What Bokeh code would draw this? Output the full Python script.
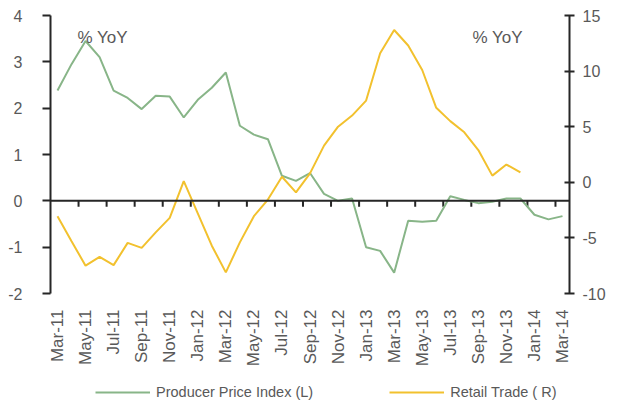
from bokeh.plotting import figure
from bokeh.models import (Range1d, LinearAxis, FixedTicker, Span, Legend, Label)
from bokeh.core.properties import value
from bokeh.embed import file_html
from bokeh.resources import INLINE
import math

months = ["Mar-11", "Apr-11", "May-11", "Jun-11", "Jul-11", "Aug-11", "Sep-11", "Oct-11",
          "Nov-11", "Dec-11", "Jan-12", "Feb-12", "Mar-12", "Apr-12", "May-12", "Jun-12",
          "Jul-12", "Aug-12", "Sep-12", "Oct-12", "Nov-12", "Dec-12", "Jan-13", "Feb-13",
          "Mar-13", "Apr-13", "May-13", "Jun-13", "Jul-13", "Aug-13", "Sep-13", "Oct-13",
          "Nov-13", "Dec-13", "Jan-14", "Feb-14", "Mar-14"]

ppi = [2.38, 2.95, 3.45, 3.1, 2.38, 2.22, 1.98, 2.27, 2.25, 1.8, 2.18, 2.44, 2.77,
       1.62, 1.43, 1.33, 0.54, 0.43, 0.6, 0.15, 0.0, 0.05, -1.0, -1.08, -1.55,
       -0.43, -0.45, -0.43, 0.1, 0.02, -0.05, -0.02, 0.05, 0.05, -0.3, -0.4, -0.33]

retail = [-3.05, -5.3, -7.5, -6.7, -7.45, -5.45, -5.9, -4.5, -3.2, 0.1, -2.8, -5.7,
          -8.1, -5.4, -3.05, -1.55, 0.5, -0.9, 0.8, 3.3, 5.0, 6.0, 7.35, 11.6, 13.7,
          12.3, 10.1, 6.7, 5.5, 4.5, 2.9, 0.6, 1.6, 0.9]

left_ticks = [-2, -1, 0, 1, 2, 3, 4]
right_ticks = [-10, -5, 0, 5, 10, 15]

ppi_name = "Producer Price Index (L)"
retail_name = "Retail Trade ( R)"
unit_text = "% YoY"

GREEN = "#88b588"
GOLD = "#f2c12e"
AXIS = "#262626"
TXT = "#595959"
FONT = "Liberation Sans"

n = len(months)
xs = list(range(n))

# geometry: plot box from y=15 to y=293 px holds the axes' tick span;
# the frame runs on to the bottom of the figure so that the month labels
# and the legend can sit under it.
W, H = 619, 403
TOP, BOX_BOTTOM = 15, 293
frame_h = H - TOP
box_h = BOX_BOTTOM - TOP
l_lo, l_hi = left_ticks[0], left_ticks[-1]
r_lo, r_hi = right_ticks[0], right_ticks[-1]
l_min = l_hi - (l_hi - l_lo) * frame_h / box_h
r_min = r_hi - (r_hi - r_lo) * frame_h / box_h
px_l = box_h / (l_hi - l_lo)

p = figure(width=W, height=H, output_backend="svg", toolbar_location=None,
           x_axis_location=None,
           x_range=Range1d(-0.5, n - 0.5), y_range=Range1d(l_min, l_hi),
           min_border_left=50, min_border_right=50, min_border_top=TOP, min_border_bottom=0)
p.outline_line_color = None
p.xgrid.grid_line_color = None
p.ygrid.grid_line_color = None
p.background_fill_color = "white"

p.extra_y_ranges = {"r": Range1d(r_min, r_hi)}

# Left axis
ya = p.yaxis[0]
ya.ticker = FixedTicker(ticks=left_ticks)
ya.bounds = (l_lo, l_hi)
ya.major_label_overrides = {t: str(t) for t in left_ticks}
ya.axis_line_color = AXIS
ya.axis_line_width = 2
ya.major_tick_line_color = AXIS
ya.major_tick_line_width = 2
ya.major_tick_out = 8
ya.major_tick_in = 0
ya.minor_tick_line_color = None
ya.major_label_text_font = FONT
ya.major_label_text_font_size = "16px"
ya.major_label_text_color = TXT
ya.major_label_standoff = 20

# Right axis
ra = LinearAxis(y_range_name="r", ticker=FixedTicker(ticks=right_ticks), bounds=(r_lo, r_hi))
ra.major_label_overrides = {t: str(t) for t in right_ticks}
ra.axis_line_color = AXIS
ra.axis_line_width = 2
ra.major_tick_line_color = AXIS
ra.major_tick_line_width = 2
ra.major_tick_out = 5
ra.major_tick_in = 5
ra.minor_tick_line_color = None
ra.major_label_text_font = FONT
ra.major_label_text_font_size = "16px"
ra.major_label_text_color = TXT
ra.major_label_standoff = 8
p.add_layout(ra, "right")

# horizontal axis line at zero with its tick marks between every second month
zero = Span(location=0, dimension="width", line_color=AXIS, line_width=2)
p.add_layout(zero)
tick_x = [i + 1.5 for i in range(0, n - 1, 2)]
p.segment(x0=tick_x, y0=[0] * len(tick_x), x1=tick_x, y1=[-6 / px_l] * len(tick_x),
          line_color=AXIS, line_width=2)

# month labels under the plot box
label_idx = xs[::2]
label_y = l_lo - 16 / px_l
p.text(x=label_idx, y=[label_y] * len(label_idx), text=[months[i] for i in label_idx],
       angle=math.pi / 2, text_align="right", text_baseline="middle",
       text_font=value(FONT), text_font_size="17px", text_color=TXT)

r1 = p.line(xs, ppi, line_color=GREEN, line_width=2)
r2 = p.line(xs[:len(retail)], retail, line_color=GOLD, line_width=2, y_range_name="r")

p.add_layout(Label(x=1.42, y=l_hi - 22 / px_l, text=unit_text, text_font=FONT,
                   text_font_size="17px", text_color=TXT, text_baseline="middle"))
p.add_layout(Label(x=29.58, y=l_hi - 22 / px_l, text=unit_text, text_font=FONT,
                   text_font_size="17px", text_color=TXT, text_baseline="middle"))

legend = Legend(items=[(ppi_name, [r1]), (retail_name, [r2])], orientation="horizontal",
                location=(45, 3), glyph_width=55, glyph_height=14, label_standoff=6,
                spacing=76, padding=0, margin=0, border_line_color=None,
                background_fill_alpha=0, label_text_font=FONT, label_text_font_size="14.5px",
                label_text_color=TXT, label_height=14)
p.add_layout(legend)

open("out.html", "w").write(file_html(p, INLINE))
